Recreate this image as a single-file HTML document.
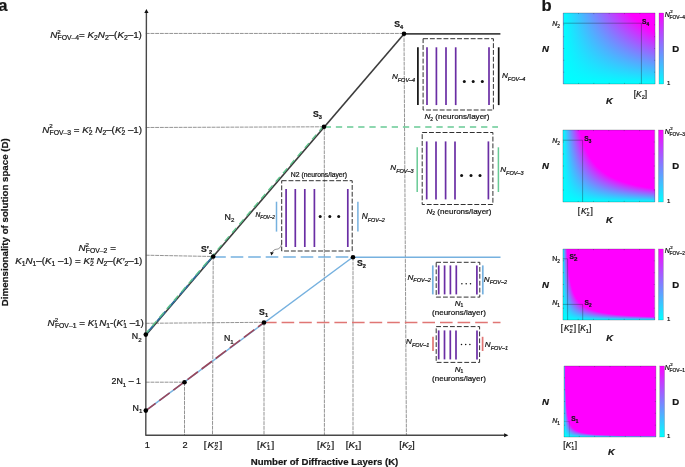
<!DOCTYPE html>
<html><head><meta charset="utf-8"><title>figure</title>
<style>html,body{margin:0;padding:0;background:#fff;}svg{display:block;will-change:transform}text{font-family:"Liberation Sans",sans-serif}</style>
</head><body>
<svg width="685" height="467" viewBox="0 0 685 467">
<defs>
<linearGradient id="cm" x1="0" y1="0" x2="1" y2="0"><stop offset="0" stop-color="#00ffff"/><stop offset="1" stop-color="#ff00ff"/></linearGradient>
<linearGradient id="cb" x1="0" y1="1" x2="0" y2="0"><stop offset="0" stop-color="#00ffff"/><stop offset="1" stop-color="#ff00ff"/></linearGradient>
</defs>
<rect width="685" height="467" fill="#fff"/>

<line x1="145.8" y1="33.45" x2="404" y2="33.45" stroke="#303030" stroke-width="0.52" stroke-dasharray="3.9 0.8"/>
<line x1="145.8" y1="127.5" x2="324" y2="126.8" stroke="#303030" stroke-width="0.52" stroke-dasharray="3.9 0.8"/>
<line x1="145.8" y1="255.2" x2="213" y2="256.5" stroke="#303030" stroke-width="0.52" stroke-dasharray="3.9 0.8"/>
<line x1="145.8" y1="323.3" x2="264" y2="322.3" stroke="#303030" stroke-width="0.52" stroke-dasharray="3.9 0.8"/>
<line x1="145.8" y1="382.2" x2="184.5" y2="382.2" stroke="#303030" stroke-width="0.52" stroke-dasharray="3.9 0.8"/>
<line x1="184.5" y1="382.2" x2="184.5" y2="435.2" stroke="#303030" stroke-width="0.52" stroke-dasharray="3.9 0.8"/>
<line x1="213.2" y1="256.5" x2="212.5" y2="435.2" stroke="#303030" stroke-width="0.52" stroke-dasharray="3.9 0.8"/>
<line x1="264" y1="322.5" x2="264" y2="435.2" stroke="#303030" stroke-width="0.52" stroke-dasharray="3.9 0.8"/>
<line x1="324.3" y1="126.8" x2="324.4" y2="435.2" stroke="#303030" stroke-width="0.52" stroke-dasharray="3.9 0.8"/>
<line x1="353" y1="257" x2="353" y2="435.2" stroke="#303030" stroke-width="0.52" stroke-dasharray="3.9 0.8"/>
<line x1="404" y1="33.5" x2="406.4" y2="435.2" stroke="#303030" stroke-width="0.52" stroke-dasharray="3.9 0.8"/>
<path d="M146.4 12.5 L145.8 435.2 H504.5" fill="none" stroke="#484848" stroke-width="1.4" stroke-linejoin="round"/>
<path d="M146.4 8.9 l-2.1 4.1 h4.2z" fill="#111"/>
<path d="M508.4 435.2 l-4.3 -2.05 v4.1z" fill="#111"/>
<line x1="404" y1="33.8" x2="500.4" y2="33.8" stroke="#444" stroke-width="1.7"/>
<line x1="324.7" y1="127.0" x2="498" y2="127.0" stroke="#68ca95" stroke-width="1.5" stroke-dasharray="6.3 4.87"/>
<line x1="213.2" y1="257.0" x2="353" y2="257.0" stroke="#76b1df" stroke-width="1.5" stroke-dasharray="12.6 4.9"/>
<line x1="353" y1="257.15" x2="500.5" y2="257.15" stroke="#76b1df" stroke-width="1.45"/>
<line x1="264.0" y1="322.5" x2="500.5" y2="322.5" stroke="#e07674" stroke-width="1.5" stroke-dasharray="12.6 5.0"/>
<line x1="145.8" y1="410.6" x2="353" y2="257.0" stroke="#76b1df" stroke-width="1.5"/>
<line x1="145.8" y1="410.6" x2="264" y2="322.5" stroke="#9a475c" stroke-width="1.6" stroke-dasharray="13.0 4.6" stroke-dashoffset="0.8"/>
<line x1="145.99" y1="334.96" x2="404.19" y2="33.66" stroke="#3c3c3c" stroke-width="1.6"/>
<line x1="145.53" y1="334.57" x2="212.93" y2="256.27" stroke="#2d6f9f" stroke-width="1.7" stroke-dasharray="12.8 4.7"/>
<line x1="145.15" y1="334.25" x2="323.35" y2="126.25" stroke="#5cc28a" stroke-width="1.35" stroke-dasharray="6.3 4.87" stroke-dashoffset="0.3"/>
<circle cx="145.8" cy="410.6" r="2.3" fill="#000"/>
<circle cx="184.5" cy="382.2" r="2.3" fill="#000"/>
<circle cx="145.8" cy="334.6" r="2.3" fill="#000"/>
<circle cx="213.2" cy="256.5" r="2.3" fill="#000"/>
<circle cx="264" cy="322.5" r="2.3" fill="#000"/>
<circle cx="324" cy="126.8" r="2.3" fill="#000"/>
<circle cx="353" cy="257.2" r="2.3" fill="#000"/>
<circle cx="404" cy="33.7" r="2.3" fill="#000"/>
<text x="394.2" y="26.7" font-family="'Liberation Sans', sans-serif" font-size="8.7" text-anchor="start" fill="#161616" stroke="#161616" stroke-width="0.22" font-weight="bold"><tspan>S</tspan><tspan font-style="normal" font-size="5.57" dy="2.00">4</tspan></text>
<text x="312.9" y="117.2" font-family="'Liberation Sans', sans-serif" font-size="8.7" text-anchor="start" fill="#161616" stroke="#161616" stroke-width="0.22" font-weight="bold"><tspan>S</tspan><tspan font-style="normal" font-size="5.57" dy="2.00">3</tspan></text>
<text x="201.0" y="252.4" font-family="'Liberation Sans', sans-serif" font-size="8.7" text-anchor="start" fill="#161616" stroke="#161616" stroke-width="0.22" font-weight="bold"><tspan>S</tspan><tspan>′</tspan><tspan font-style="normal" font-size="5.57" dy="2.00">2</tspan></text>
<text x="259.1" y="314.6" font-family="'Liberation Sans', sans-serif" font-size="8.7" text-anchor="start" fill="#161616" stroke="#161616" stroke-width="0.22" font-weight="bold"><tspan>S</tspan><tspan font-style="normal" font-size="5.57" dy="2.00">1</tspan></text>
<text x="357.0" y="266.4" font-family="'Liberation Sans', sans-serif" font-size="8.7" text-anchor="start" fill="#161616" stroke="#161616" stroke-width="0.22" font-weight="bold"><tspan>S</tspan><tspan font-style="normal" font-size="5.57" dy="2.00">2</tspan></text>
<rect x="423.1" y="38.7" width="70.30" height="71.30" fill="none" stroke="#262626" stroke-width="0.95" stroke-dasharray="4.9 1.9"/>
<line x1="427.0" y1="47.3" x2="427.0" y2="105.1" stroke="#6a2da4" stroke-width="1.7"/>
<line x1="436.4" y1="47.3" x2="436.4" y2="105.1" stroke="#6a2da4" stroke-width="1.7"/>
<line x1="446.0" y1="47.3" x2="446.0" y2="105.1" stroke="#6a2da4" stroke-width="1.7"/>
<line x1="455.7" y1="47.3" x2="455.7" y2="105.1" stroke="#6a2da4" stroke-width="1.7"/>
<line x1="489.0" y1="47.3" x2="489.0" y2="105.1" stroke="#6a2da4" stroke-width="1.7"/>
<circle cx="464.3" cy="81.4" r="1.5" fill="#111"/>
<circle cx="473.2" cy="81.4" r="1.5" fill="#111"/>
<circle cx="482.3" cy="81.4" r="1.5" fill="#111"/>
<line x1="417.9" y1="47.3" x2="417.9" y2="105.1" stroke="#111" stroke-width="1.7"/>
<line x1="498.7" y1="47.3" x2="498.7" y2="105.1" stroke="#111" stroke-width="1.7"/>
<rect x="422.2" y="132.5" width="70.70" height="72.00" fill="none" stroke="#262626" stroke-width="0.95" stroke-dasharray="4.9 1.9"/>
<line x1="426.7" y1="141.4" x2="426.7" y2="199.4" stroke="#6a2da4" stroke-width="1.7"/>
<line x1="436" y1="141.4" x2="436" y2="199.4" stroke="#6a2da4" stroke-width="1.7"/>
<line x1="445.6" y1="141.4" x2="445.6" y2="199.4" stroke="#6a2da4" stroke-width="1.7"/>
<line x1="455" y1="141.4" x2="455" y2="199.4" stroke="#6a2da4" stroke-width="1.7"/>
<line x1="488.4" y1="141.4" x2="488.4" y2="199.4" stroke="#6a2da4" stroke-width="1.7"/>
<circle cx="461.6" cy="175.6" r="1.5" fill="#111"/>
<circle cx="471" cy="175.6" r="1.5" fill="#111"/>
<circle cx="480" cy="175.6" r="1.5" fill="#111"/>
<line x1="417.2" y1="147.3" x2="417.2" y2="192" stroke="#68ca95" stroke-width="1.5"/>
<line x1="498.4" y1="147.3" x2="498.4" y2="192" stroke="#68ca95" stroke-width="1.5"/>
<rect x="281.7" y="180.7" width="70.50" height="70.30" fill="none" stroke="#262626" stroke-width="0.95" stroke-dasharray="4.9 1.9"/>
<line x1="286.1" y1="189" x2="286.1" y2="247.0" stroke="#6a2da4" stroke-width="1.7"/>
<line x1="295.3" y1="189" x2="295.3" y2="247.0" stroke="#6a2da4" stroke-width="1.7"/>
<line x1="304.8" y1="189" x2="304.8" y2="247.0" stroke="#6a2da4" stroke-width="1.7"/>
<line x1="314.4" y1="189" x2="314.4" y2="247.0" stroke="#6a2da4" stroke-width="1.7"/>
<line x1="347.8" y1="189" x2="347.8" y2="247.0" stroke="#6a2da4" stroke-width="1.7"/>
<circle cx="320.2" cy="216.6" r="1.5" fill="#111"/>
<circle cx="329.8" cy="216.6" r="1.5" fill="#111"/>
<circle cx="338.7" cy="216.6" r="1.5" fill="#111"/>
<line x1="276.5" y1="201.7" x2="276.5" y2="231.6" stroke="#76b1df" stroke-width="1.5"/>
<line x1="357.9" y1="201.7" x2="357.9" y2="231.6" stroke="#76b1df" stroke-width="1.5"/>
<rect x="436.2" y="262.3" width="43.60" height="34.80" fill="none" stroke="#262626" stroke-width="0.95" stroke-dasharray="4.8 2.1"/>
<line x1="438.7" y1="265.4" x2="438.7" y2="294.4" stroke="#6a2da4" stroke-width="1.7"/>
<line x1="444.6" y1="265.4" x2="444.6" y2="294.4" stroke="#6a2da4" stroke-width="1.7"/>
<line x1="450.4" y1="265.4" x2="450.4" y2="294.4" stroke="#6a2da4" stroke-width="1.7"/>
<line x1="456.3" y1="265.4" x2="456.3" y2="294.4" stroke="#6a2da4" stroke-width="1.7"/>
<line x1="476.9" y1="265.4" x2="476.9" y2="294.4" stroke="#6a2da4" stroke-width="1.7"/>
<circle cx="461.9" cy="283.8" r="0.75" fill="#111"/>
<circle cx="466.2" cy="283.8" r="0.75" fill="#111"/>
<circle cx="470.5" cy="283.8" r="0.75" fill="#111"/>
<line x1="432.8" y1="265.4" x2="432.8" y2="294.4" stroke="#76b1df" stroke-width="1.7"/>
<line x1="482.8" y1="265.4" x2="482.8" y2="294.4" stroke="#76b1df" stroke-width="1.7"/>
<rect x="436.2" y="326.6" width="43.40" height="35.80" fill="none" stroke="#262626" stroke-width="0.95" stroke-dasharray="4.8 2.1"/>
<line x1="438.7" y1="330.4" x2="438.7" y2="359.4" stroke="#6a2da4" stroke-width="1.7"/>
<line x1="444.5" y1="330.4" x2="444.5" y2="359.4" stroke="#6a2da4" stroke-width="1.7"/>
<line x1="450.3" y1="330.4" x2="450.3" y2="359.4" stroke="#6a2da4" stroke-width="1.7"/>
<line x1="456.0" y1="330.4" x2="456.0" y2="359.4" stroke="#6a2da4" stroke-width="1.7"/>
<line x1="477.0" y1="330.4" x2="477.0" y2="359.4" stroke="#6a2da4" stroke-width="1.7"/>
<circle cx="461.5" cy="344.4" r="0.75" fill="#111"/>
<circle cx="465.7" cy="344.4" r="0.75" fill="#111"/>
<circle cx="469.9" cy="344.4" r="0.75" fill="#111"/>
<line x1="433.0" y1="336.8" x2="433.0" y2="351.0" stroke="#e07674" stroke-width="1.7"/>
<line x1="482.6" y1="336.8" x2="482.6" y2="351.0" stroke="#e07674" stroke-width="1.7"/>
<path d="M281.6 243.6 C281.0 247.6 279.0 249.0 276.6 249.2 C274.6 249.4 273.2 250.4 272.3 252.2" fill="none" stroke="#222" stroke-width="0.5"/><path d="M271.3 255.6 L270.2 252.0 L273.8 252.4z" fill="#111"/>
<text x="415.2" y="78.6" font-family="'Liberation Sans', sans-serif" font-size="8.1" text-anchor="end" fill="#161616" stroke="#161616" stroke-width="0.22" font-style="italic"><tspan>N</tspan><tspan font-size="5.5" dy="2.90">FOV–4</tspan></text>
<text x="502.0" y="77.7" font-family="'Liberation Sans', sans-serif" font-size="8.1" text-anchor="start" fill="#161616" stroke="#161616" stroke-width="0.22" font-style="italic"><tspan>N</tspan><tspan font-size="5.5" dy="2.90">FOV–4</tspan></text>
<text x="413.6" y="169.7" font-family="'Liberation Sans', sans-serif" font-size="8.1" text-anchor="end" fill="#161616" stroke="#161616" stroke-width="0.22" font-style="italic"><tspan>N</tspan><tspan font-size="5.5" dy="2.90">FOV–3</tspan></text>
<text x="500.2" y="171.9" font-family="'Liberation Sans', sans-serif" font-size="8.1" text-anchor="start" fill="#161616" stroke="#161616" stroke-width="0.22" font-style="italic"><tspan>N</tspan><tspan font-size="5.5" dy="2.90">FOV–3</tspan></text>
<text x="274.9" y="217.1" font-family="'Liberation Sans', sans-serif" font-size="6.6" text-anchor="end" fill="#161616" stroke="#161616" stroke-width="0.22" font-style="italic"><tspan>N</tspan><tspan font-size="4.6" dy="2.20">FOV–2</tspan></text>
<text x="361.7" y="219.3" font-family="'Liberation Sans', sans-serif" font-size="8.3" text-anchor="start" fill="#161616" stroke="#161616" stroke-width="0.22" font-style="italic"><tspan>N</tspan><tspan font-size="5.4" dy="2.70">FOV–2</tspan></text>
<text x="430.8" y="279.7" font-family="'Liberation Sans', sans-serif" font-size="8.1" text-anchor="end" fill="#161616" stroke="#161616" stroke-width="0.22" font-style="italic"><tspan>N</tspan><tspan font-size="5.5" dy="2.40">FOV–2</tspan></text>
<text x="483.8" y="281.6" font-family="'Liberation Sans', sans-serif" font-size="8.1" text-anchor="start" fill="#161616" stroke="#161616" stroke-width="0.22" font-style="italic"><tspan>N</tspan><tspan font-size="5.5" dy="2.40">FOV–2</tspan></text>
<text x="429.4" y="344.4" font-family="'Liberation Sans', sans-serif" font-size="8.1" text-anchor="end" fill="#161616" stroke="#161616" stroke-width="0.22" font-style="italic"><tspan>N</tspan><tspan font-size="5.5" dy="2.40">FOV–1</tspan></text>
<text x="484.8" y="347.3" font-family="'Liberation Sans', sans-serif" font-size="8.1" text-anchor="start" fill="#161616" stroke="#161616" stroke-width="0.22" font-style="italic"><tspan>N</tspan><tspan font-size="5.5" dy="2.40">FOV–1</tspan></text>
<text x="457" y="118.9" font-family="'Liberation Sans', sans-serif" font-size="8.05" text-anchor="middle" fill="#161616" stroke="#161616" stroke-width="0.22"><tspan font-style="italic">N</tspan><tspan font-style="normal" font-size="4.99" dy="1.60">2</tspan><tspan dy="-1.60"> (neurons/layer)</tspan></text>
<text x="459" y="213.8" font-family="'Liberation Sans', sans-serif" font-size="8.05" text-anchor="middle" fill="#161616" stroke="#161616" stroke-width="0.22"><tspan font-style="italic">N</tspan><tspan font-style="normal" font-size="4.99" dy="1.60">2</tspan><tspan dy="-1.60"> (neurons/layer)</tspan></text>
<text x="319" y="177.2" font-family="'Liberation Sans', sans-serif" font-size="6.8" text-anchor="middle" fill="#161616" stroke="#161616" stroke-width="0.22"><tspan>N2 (neurons/layer)</tspan></text>
<text x="459.0" y="305.7" font-family="'Liberation Sans', sans-serif" font-size="8.0" text-anchor="middle" fill="#161616" stroke="#161616" stroke-width="0.22"><tspan font-style="italic">N</tspan><tspan font-style="normal" font-size="4.96" dy="1.50">1</tspan></text><text x="459.0" y="314.7" font-family="'Liberation Sans', sans-serif" font-size="8.0" text-anchor="middle" fill="#161616" stroke="#161616" stroke-width="0.22"><tspan>(neurons/layer)</tspan></text>
<text x="459.0" y="371.6" font-family="'Liberation Sans', sans-serif" font-size="8.0" text-anchor="middle" fill="#161616" stroke="#161616" stroke-width="0.22"><tspan font-style="italic">N</tspan><tspan font-style="normal" font-size="4.96" dy="1.50">1</tspan></text><text x="459.0" y="380.8" font-family="'Liberation Sans', sans-serif" font-size="8.0" text-anchor="middle" fill="#161616" stroke="#161616" stroke-width="0.22"><tspan>(neurons/layer)</tspan></text>
<text x="224.6" y="219.7" font-family="'Liberation Sans', sans-serif" font-size="8.8" text-anchor="start" fill="#161616" stroke="#161616" stroke-width="0.22"><tspan>N</tspan><tspan font-style="normal" font-size="6.16" dy="2.50">2</tspan></text>
<text x="223.9" y="341.0" font-family="'Liberation Sans', sans-serif" font-size="8.8" text-anchor="start" fill="#161616" stroke="#161616" stroke-width="0.22"><tspan>N</tspan><tspan font-style="normal" font-size="6.16" dy="2.50">1</tspan></text>
<text x="141.6" y="339.4" font-family="'Liberation Sans', sans-serif" font-size="8.8" text-anchor="end" fill="#161616" stroke="#161616" stroke-width="0.22"><tspan>N</tspan><tspan font-style="normal" font-size="6.16" dy="2.50">2</tspan></text>
<text x="142.4" y="410.8" font-family="'Liberation Sans', sans-serif" font-size="8.8" text-anchor="end" fill="#161616" stroke="#161616" stroke-width="0.22"><tspan>N</tspan><tspan font-style="normal" font-size="6.16" dy="2.50">1</tspan></text>
<text x="141.0" y="384.3" font-family="'Liberation Sans', sans-serif" font-size="8.8" text-anchor="end" fill="#161616" stroke="#161616" stroke-width="0.22"><tspan>2N</tspan><tspan font-style="normal" font-size="6.2" dy="2.40">1</tspan><tspan dy="-2.40"> – 1</tspan></text>
<text x="141.9" y="38.1" font-family="'Liberation Sans', sans-serif" font-size="9.8" text-anchor="end" fill="#161616" stroke="#161616" stroke-width="0.22"><tspan font-style="italic">N</tspan><tspan font-style="normal" font-size="6.2" dy="-4.40">2</tspan><tspan font-style="normal" font-size="6.8" dy="6.40" dx="-3.2">FOV–4</tspan><tspan dy="-2.00">= </tspan><tspan font-style="italic">K</tspan><tspan font-style="normal" font-size="6.8" dy="2.00">2</tspan><tspan font-style="italic" dy="-2.00">N</tspan><tspan font-style="normal" font-size="6.8" dy="2.00">2</tspan><tspan dy="-2.00">–(</tspan><tspan font-style="italic">K</tspan><tspan font-style="normal" font-size="6.8" dy="2.00">2</tspan><tspan dy="-2.00">–1)</tspan></text>
<text x="142.1" y="132.7" font-family="'Liberation Sans', sans-serif" font-size="9.8" text-anchor="end" fill="#161616" stroke="#161616" stroke-width="0.22"><tspan font-style="italic">N</tspan><tspan font-style="normal" font-size="6.2" dy="-4.40">2</tspan><tspan font-style="normal" font-size="6.8" dy="6.40" dx="-3.2">FOV–3</tspan><tspan dy="-2.00"> = </tspan><tspan font-style="italic">K</tspan><tspan font-style="italic">′</tspan><tspan font-style="normal" font-size="6.8" dy="2.00" dx="-1.84">2</tspan><tspan dy="-2.00"> </tspan><tspan font-style="italic">N</tspan><tspan font-style="normal" font-size="6.8" dy="2.00">2</tspan><tspan dy="-2.00">–(</tspan><tspan font-style="italic">K</tspan><tspan font-style="italic">′</tspan><tspan font-style="normal" font-size="6.8" dy="2.00" dx="-1.84">2</tspan><tspan dy="-2.00"> –1)</tspan></text>
<text x="97.2" y="251.4" font-family="'Liberation Sans', sans-serif" font-size="9.8" text-anchor="middle" fill="#161616" stroke="#161616" stroke-width="0.22"><tspan font-style="italic">N</tspan><tspan font-style="normal" font-size="6.2" dy="-4.40">2</tspan><tspan font-style="normal" font-size="6.8" dy="6.40" dx="-3.2">FOV–2</tspan><tspan dy="-2.00"> =</tspan></text>
<text x="142.4" y="263.6" font-family="'Liberation Sans', sans-serif" font-size="9.8" text-anchor="end" fill="#161616" stroke="#161616" stroke-width="0.22"><tspan font-style="italic">K</tspan><tspan font-style="normal" font-size="6.8" dy="2.00">1</tspan><tspan font-style="italic" dy="-2.00">N</tspan><tspan font-style="normal" font-size="6.8" dy="2.00">1</tspan><tspan dy="-2.00">–(</tspan><tspan font-style="italic">K</tspan><tspan font-style="normal" font-size="6.8" dy="2.00">1</tspan><tspan dy="-2.00"> –1) = </tspan><tspan font-style="italic">K</tspan><tspan font-style="italic">″</tspan><tspan font-style="normal" font-size="6.8" dy="2.00" dx="-3.47">2</tspan><tspan dy="-2.00"> </tspan><tspan font-style="italic">N</tspan><tspan font-style="normal" font-size="6.8" dy="2.00">2</tspan><tspan dy="-2.00">–(</tspan><tspan font-style="italic">K</tspan><tspan font-style="italic">′</tspan><tspan font-style="normal" font-size="6.8" dy="2.00">2</tspan><tspan dy="-2.00">–1)</tspan></text>
<text x="143.8" y="326.4" font-family="'Liberation Sans', sans-serif" font-size="9.8" text-anchor="end" fill="#161616" stroke="#161616" stroke-width="0.22"><tspan font-style="italic">N</tspan><tspan font-style="normal" font-size="6.2" dy="-4.40">2</tspan><tspan font-style="normal" font-size="6.8" dy="6.40" dx="-3.2">FOV–1</tspan><tspan dy="-2.00"> = </tspan><tspan font-style="italic">K</tspan><tspan font-style="italic">′</tspan><tspan font-style="normal" font-size="6.8" dy="2.00" dx="-1.84">1</tspan><tspan font-style="italic" dy="-2.00" dx="1.2">N</tspan><tspan font-style="normal" font-size="6.8" dy="2.00">1</tspan><tspan dy="-2.00">-(</tspan><tspan font-style="italic">K</tspan><tspan font-style="italic">′</tspan><tspan font-style="normal" font-size="6.8" dy="2.00" dx="-1.84">1</tspan><tspan dy="-2.00"> –1)</tspan></text>
<text x="147.2" y="448.3" font-family="'Liberation Sans', sans-serif" font-size="9.2" text-anchor="middle" fill="#161616" stroke="#161616" stroke-width="0.22"><tspan>1</tspan></text>
<text x="185.1" y="448.3" font-family="'Liberation Sans', sans-serif" font-size="9.2" text-anchor="middle" fill="#161616" stroke="#161616" stroke-width="0.22"><tspan>2</tspan></text>
<text x="213.0" y="448.3" font-family="'Liberation Sans', sans-serif" font-size="9.8" text-anchor="middle" fill="#161616" stroke="#161616" stroke-width="0.22"><tspan>[</tspan><tspan font-style="italic" dx="0.8999999999999999">K</tspan><tspan font-style="italic" dx="0.2">″</tspan><tspan font-style="normal" font-size="6.8" dy="2.10" dx="-3.47">2</tspan><tspan dy="-2.10" dx="1.4">]</tspan></text>
<text x="265.6" y="448.3" font-family="'Liberation Sans', sans-serif" font-size="9.8" text-anchor="middle" fill="#161616" stroke="#161616" stroke-width="0.22"><tspan>[</tspan><tspan font-style="italic" dx="0.3">K</tspan><tspan font-style="italic" dx="0.2">′</tspan><tspan font-style="normal" font-size="6.8" dy="2.10" dx="-1.84">1</tspan><tspan dy="-2.10" dx="0.8">]</tspan></text>
<text x="325.6" y="448.3" font-family="'Liberation Sans', sans-serif" font-size="9.8" text-anchor="middle" fill="#161616" stroke="#161616" stroke-width="0.22"><tspan>[</tspan><tspan font-style="italic" dx="0.3">K</tspan><tspan font-style="italic" dx="0.2">′</tspan><tspan font-style="normal" font-size="6.8" dy="2.10" dx="-1.84">2</tspan><tspan dy="-2.10" dx="0.8">]</tspan></text>
<text x="353.5" y="448.3" font-family="'Liberation Sans', sans-serif" font-size="9.8" text-anchor="middle" fill="#161616" stroke="#161616" stroke-width="0.22"><tspan>[</tspan><tspan font-style="italic" dx="0">K</tspan><tspan font-style="normal" font-size="6.8" dy="2.10" dx="-0.3">1</tspan><tspan dy="-2.10">]</tspan></text>
<text x="407.1" y="448.3" font-family="'Liberation Sans', sans-serif" font-size="9.8" text-anchor="middle" fill="#161616" stroke="#161616" stroke-width="0.22"><tspan>[</tspan><tspan font-style="italic" dx="0">K</tspan><tspan font-style="normal" font-size="6.8" dy="2.10" dx="-0.3">2</tspan><tspan dy="-2.10">]</tspan></text>
<text x="324.5" y="464.6" font-family="'Liberation Sans', sans-serif" font-size="9.65" text-anchor="middle" fill="#161616" stroke="#161616" stroke-width="0.22" font-weight="bold"><tspan>Number of Diffractive Layers (K)</tspan></text>
<text x="0" y="0" font-family="'Liberation Sans', sans-serif" font-size="9.73" text-anchor="middle" fill="#161616" stroke="#161616" stroke-width="0.22" font-weight="bold" transform="translate(8.4 222.2) rotate(-90)"><tspan>Dimensionality of solution space (D)</tspan></text>
<text x="-1.7" y="11.2" font-family="'Liberation Sans', sans-serif" font-size="16.6" text-anchor="start" fill="#161616" stroke="#161616" stroke-width="0.22" font-weight="bold"><tspan>a</tspan></text>
<text x="541.4" y="11.2" font-family="'Liberation Sans', sans-serif" font-size="16.6" text-anchor="start" fill="#161616" stroke="#161616" stroke-width="0.22" font-weight="bold"><tspan>b</tspan></text>
<clipPath id="hc0"><rect x="563.20" y="13.00" width="91.90" height="71.00"/></clipPath>
<g clip-path="url(#hc0)"><rect x="563.20" y="13.00" width="91.90" height="71.00" fill="#ff00ff"/>
<rect x="563.20" y="13" width="67.41" height="1" fill="url(#cm)"/>
<rect x="563.20" y="14" width="68.38" height="1" fill="url(#cm)"/>
<rect x="563.20" y="15" width="69.38" height="1" fill="url(#cm)"/>
<rect x="563.20" y="16" width="70.40" height="1" fill="url(#cm)"/>
<rect x="563.20" y="17" width="71.46" height="1" fill="url(#cm)"/>
<rect x="563.20" y="18" width="72.55" height="1" fill="url(#cm)"/>
<rect x="563.20" y="19" width="73.68" height="1" fill="url(#cm)"/>
<rect x="563.20" y="20" width="74.84" height="1" fill="url(#cm)"/>
<rect x="563.20" y="21" width="76.04" height="1" fill="url(#cm)"/>
<rect x="563.20" y="22" width="77.27" height="1" fill="url(#cm)"/>
<rect x="563.20" y="23" width="78.55" height="1" fill="url(#cm)"/>
<rect x="563.20" y="24" width="79.87" height="1" fill="url(#cm)"/>
<rect x="563.20" y="25" width="81.24" height="1" fill="url(#cm)"/>
<rect x="563.20" y="26" width="82.65" height="1" fill="url(#cm)"/>
<rect x="563.20" y="27" width="84.11" height="1" fill="url(#cm)"/>
<rect x="563.20" y="28" width="85.63" height="1" fill="url(#cm)"/>
<rect x="563.20" y="29" width="87.20" height="1" fill="url(#cm)"/>
<rect x="563.20" y="30" width="88.83" height="1" fill="url(#cm)"/>
<rect x="563.20" y="31" width="90.52" height="1" fill="url(#cm)"/>
<rect x="563.20" y="32" width="92.28" height="1" fill="url(#cm)"/>
<rect x="563.20" y="33" width="94.10" height="1" fill="url(#cm)"/>
<rect x="563.20" y="34" width="96.01" height="1" fill="url(#cm)"/>
<rect x="563.20" y="35" width="97.99" height="1" fill="url(#cm)"/>
<rect x="563.20" y="36" width="100.05" height="1" fill="url(#cm)"/>
<rect x="563.20" y="37" width="102.20" height="1" fill="url(#cm)"/>
<rect x="563.20" y="38" width="104.45" height="1" fill="url(#cm)"/>
<rect x="563.20" y="39" width="106.79" height="1" fill="url(#cm)"/>
<rect x="563.20" y="40" width="109.25" height="1" fill="url(#cm)"/>
<rect x="563.20" y="41" width="111.82" height="1" fill="url(#cm)"/>
<rect x="563.20" y="42" width="114.51" height="1" fill="url(#cm)"/>
<rect x="563.20" y="43" width="117.34" height="1" fill="url(#cm)"/>
<rect x="563.20" y="44" width="120.31" height="1" fill="url(#cm)"/>
<rect x="563.20" y="45" width="123.44" height="1" fill="url(#cm)"/>
<rect x="563.20" y="46" width="126.73" height="1" fill="url(#cm)"/>
<rect x="563.20" y="47" width="130.20" height="1" fill="url(#cm)"/>
<rect x="563.20" y="48" width="133.87" height="1" fill="url(#cm)"/>
<rect x="563.20" y="49" width="137.75" height="1" fill="url(#cm)"/>
<rect x="563.20" y="50" width="141.86" height="1" fill="url(#cm)"/>
<rect x="563.20" y="51" width="146.22" height="1" fill="url(#cm)"/>
<rect x="563.20" y="52" width="150.87" height="1" fill="url(#cm)"/>
<rect x="563.20" y="53" width="155.81" height="1" fill="url(#cm)"/>
<rect x="563.20" y="54" width="161.09" height="1" fill="url(#cm)"/>
<rect x="563.20" y="55" width="166.75" height="1" fill="url(#cm)"/>
<rect x="563.20" y="56" width="172.81" height="1" fill="url(#cm)"/>
<rect x="563.20" y="57" width="179.33" height="1" fill="url(#cm)"/>
<rect x="563.20" y="58" width="186.36" height="1" fill="url(#cm)"/>
<rect x="563.20" y="59" width="193.97" height="1" fill="url(#cm)"/>
<rect x="563.20" y="60" width="202.23" height="1" fill="url(#cm)"/>
<rect x="563.20" y="61" width="211.21" height="1" fill="url(#cm)"/>
<rect x="563.20" y="62" width="221.04" height="1" fill="url(#cm)"/>
<rect x="563.20" y="63" width="231.82" height="1" fill="url(#cm)"/>
<rect x="563.20" y="64" width="243.71" height="1" fill="url(#cm)"/>
<rect x="563.20" y="65" width="256.88" height="1" fill="url(#cm)"/>
<rect x="563.20" y="66" width="271.56" height="1" fill="url(#cm)"/>
<rect x="563.20" y="67" width="288.02" height="1" fill="url(#cm)"/>
<rect x="563.20" y="68" width="306.60" height="1" fill="url(#cm)"/>
<rect x="563.20" y="69" width="327.74" height="1" fill="url(#cm)"/>
<rect x="563.20" y="70" width="352.02" height="1" fill="url(#cm)"/>
<rect x="563.20" y="71" width="380.18" height="1" fill="url(#cm)"/>
<rect x="563.20" y="72" width="413.24" height="1" fill="url(#cm)"/>
<rect x="563.20" y="73" width="452.60" height="1" fill="url(#cm)"/>
<rect x="563.20" y="74" width="500.24" height="1" fill="url(#cm)"/>
<rect x="563.20" y="75" width="559.09" height="1" fill="url(#cm)"/>
<rect x="563.20" y="76" width="633.64" height="1" fill="url(#cm)"/>
<rect x="563.20" y="77" width="731.12" height="1" fill="url(#cm)"/>
<rect x="563.20" y="78" width="864.05" height="1" fill="url(#cm)"/>
<rect x="563.20" y="79" width="1056.07" height="1" fill="url(#cm)"/>
<rect x="563.20" y="80" width="1357.80" height="1" fill="url(#cm)"/>
<rect x="563.20" y="81" width="1900.92" height="1" fill="url(#cm)"/>
<rect x="563.20" y="82" width="3168.20" height="1" fill="url(#cm)"/>
<rect x="563.20" y="83" width="9504.59" height="1" fill="url(#cm)"/>
</g>
<rect x="659.0" y="13" width="4.70" height="71.00" fill="url(#cb)" stroke="#1a2a30" stroke-opacity="0.5" stroke-width="0.35"/>
<text x="672.3" y="51.9" font-family="'Liberation Sans', sans-serif" font-size="9.6" text-anchor="start" fill="#161616" stroke="#161616" stroke-width="0.22" font-weight="bold"><tspan>D</tspan></text>
<text x="667.0" y="85.1" font-family="'Liberation Sans', sans-serif" font-size="6.0" text-anchor="start" fill="#161616" stroke="#161616" stroke-width="0.22"><tspan>1</tspan></text>
<text x="664.7" y="16.8" font-family="'Liberation Sans', sans-serif" font-size="7.0" text-anchor="start" fill="#161616" stroke="#161616" stroke-width="0.22"><tspan font-style="italic">N</tspan><tspan font-style="normal" font-size="4.4" dy="-3.40" dx="0.4">2</tspan><tspan font-style="normal" font-size="4.9" dy="5.10" dx="-3.1">FOV–4</tspan></text>
<text x="542.0" y="51.9" font-family="'Liberation Sans', sans-serif" font-size="9.6" text-anchor="start" fill="#161616" stroke="#161616" stroke-width="0.22" font-weight="bold" font-style="italic"><tspan>N</tspan></text>
<clipPath id="hc1"><rect x="562.90" y="130.00" width="91.90" height="72.00"/></clipPath>
<g clip-path="url(#hc1)"><rect x="562.90" y="130.00" width="91.90" height="72.00" fill="#ff00ff"/>
<rect x="562.90" y="130" width="17.11" height="1" fill="url(#cm)"/>
<rect x="562.90" y="131" width="17.35" height="1" fill="url(#cm)"/>
<rect x="562.90" y="132" width="17.60" height="1" fill="url(#cm)"/>
<rect x="562.90" y="133" width="17.86" height="1" fill="url(#cm)"/>
<rect x="562.90" y="134" width="18.12" height="1" fill="url(#cm)"/>
<rect x="562.90" y="135" width="18.39" height="1" fill="url(#cm)"/>
<rect x="562.90" y="136" width="18.67" height="1" fill="url(#cm)"/>
<rect x="562.90" y="137" width="18.96" height="1" fill="url(#cm)"/>
<rect x="562.90" y="138" width="19.26" height="1" fill="url(#cm)"/>
<rect x="562.90" y="139" width="19.57" height="1" fill="url(#cm)"/>
<rect x="562.90" y="140" width="19.89" height="1" fill="url(#cm)"/>
<rect x="562.90" y="141" width="20.22" height="1" fill="url(#cm)"/>
<rect x="562.90" y="142" width="20.56" height="1" fill="url(#cm)"/>
<rect x="562.90" y="143" width="20.91" height="1" fill="url(#cm)"/>
<rect x="562.90" y="144" width="21.27" height="1" fill="url(#cm)"/>
<rect x="562.90" y="145" width="21.65" height="1" fill="url(#cm)"/>
<rect x="562.90" y="146" width="22.04" height="1" fill="url(#cm)"/>
<rect x="562.90" y="147" width="22.44" height="1" fill="url(#cm)"/>
<rect x="562.90" y="148" width="22.86" height="1" fill="url(#cm)"/>
<rect x="562.90" y="149" width="23.30" height="1" fill="url(#cm)"/>
<rect x="562.90" y="150" width="23.75" height="1" fill="url(#cm)"/>
<rect x="562.90" y="151" width="24.22" height="1" fill="url(#cm)"/>
<rect x="562.90" y="152" width="24.71" height="1" fill="url(#cm)"/>
<rect x="562.90" y="153" width="25.22" height="1" fill="url(#cm)"/>
<rect x="562.90" y="154" width="25.75" height="1" fill="url(#cm)"/>
<rect x="562.90" y="155" width="26.30" height="1" fill="url(#cm)"/>
<rect x="562.90" y="156" width="26.88" height="1" fill="url(#cm)"/>
<rect x="562.90" y="157" width="27.48" height="1" fill="url(#cm)"/>
<rect x="562.90" y="158" width="28.12" height="1" fill="url(#cm)"/>
<rect x="562.90" y="159" width="28.78" height="1" fill="url(#cm)"/>
<rect x="562.90" y="160" width="29.47" height="1" fill="url(#cm)"/>
<rect x="562.90" y="161" width="30.20" height="1" fill="url(#cm)"/>
<rect x="562.90" y="162" width="30.96" height="1" fill="url(#cm)"/>
<rect x="562.90" y="163" width="31.77" height="1" fill="url(#cm)"/>
<rect x="562.90" y="164" width="32.62" height="1" fill="url(#cm)"/>
<rect x="562.90" y="165" width="33.51" height="1" fill="url(#cm)"/>
<rect x="562.90" y="166" width="34.45" height="1" fill="url(#cm)"/>
<rect x="562.90" y="167" width="35.45" height="1" fill="url(#cm)"/>
<rect x="562.90" y="168" width="36.51" height="1" fill="url(#cm)"/>
<rect x="562.90" y="169" width="37.63" height="1" fill="url(#cm)"/>
<rect x="562.90" y="170" width="38.83" height="1" fill="url(#cm)"/>
<rect x="562.90" y="171" width="40.10" height="1" fill="url(#cm)"/>
<rect x="562.90" y="172" width="41.46" height="1" fill="url(#cm)"/>
<rect x="562.90" y="173" width="42.91" height="1" fill="url(#cm)"/>
<rect x="562.90" y="174" width="44.48" height="1" fill="url(#cm)"/>
<rect x="562.90" y="175" width="46.15" height="1" fill="url(#cm)"/>
<rect x="562.90" y="176" width="47.96" height="1" fill="url(#cm)"/>
<rect x="562.90" y="177" width="49.92" height="1" fill="url(#cm)"/>
<rect x="562.90" y="178" width="52.05" height="1" fill="url(#cm)"/>
<rect x="562.90" y="179" width="54.36" height="1" fill="url(#cm)"/>
<rect x="562.90" y="180" width="56.89" height="1" fill="url(#cm)"/>
<rect x="562.90" y="181" width="59.66" height="1" fill="url(#cm)"/>
<rect x="562.90" y="182" width="62.72" height="1" fill="url(#cm)"/>
<rect x="562.90" y="183" width="66.11" height="1" fill="url(#cm)"/>
<rect x="562.90" y="184" width="69.89" height="1" fill="url(#cm)"/>
<rect x="562.90" y="185" width="74.13" height="1" fill="url(#cm)"/>
<rect x="562.90" y="186" width="78.91" height="1" fill="url(#cm)"/>
<rect x="562.90" y="187" width="84.35" height="1" fill="url(#cm)"/>
<rect x="562.90" y="188" width="90.60" height="1" fill="url(#cm)"/>
<rect x="562.90" y="189" width="97.85" height="1" fill="url(#cm)"/>
<rect x="562.90" y="190" width="106.35" height="1" fill="url(#cm)"/>
<rect x="562.90" y="191" width="116.48" height="1" fill="url(#cm)"/>
<rect x="562.90" y="192" width="128.74" height="1" fill="url(#cm)"/>
<rect x="562.90" y="193" width="143.89" height="1" fill="url(#cm)"/>
<rect x="562.90" y="194" width="163.08" height="1" fill="url(#cm)"/>
<rect x="562.90" y="195" width="188.16" height="1" fill="url(#cm)"/>
<rect x="562.90" y="196" width="222.38" height="1" fill="url(#cm)"/>
<rect x="562.90" y="197" width="271.79" height="1" fill="url(#cm)"/>
<rect x="562.90" y="198" width="349.45" height="1" fill="url(#cm)"/>
<rect x="562.90" y="199" width="489.23" height="1" fill="url(#cm)"/>
<rect x="562.90" y="200" width="815.38" height="1" fill="url(#cm)"/>
<rect x="562.90" y="201" width="2446.14" height="1" fill="url(#cm)"/>
</g>
<rect x="658.5" y="130" width="4.80" height="72.00" fill="url(#cb)" stroke="#1a2a30" stroke-opacity="0.5" stroke-width="0.35"/>
<text x="672.3" y="169.4" font-family="'Liberation Sans', sans-serif" font-size="9.6" text-anchor="start" fill="#161616" stroke="#161616" stroke-width="0.22" font-weight="bold"><tspan>D</tspan></text>
<text x="667.0" y="203.1" font-family="'Liberation Sans', sans-serif" font-size="6.0" text-anchor="start" fill="#161616" stroke="#161616" stroke-width="0.22"><tspan>1</tspan></text>
<text x="664.7" y="133.8" font-family="'Liberation Sans', sans-serif" font-size="7.0" text-anchor="start" fill="#161616" stroke="#161616" stroke-width="0.22"><tspan font-style="italic">N</tspan><tspan font-style="normal" font-size="4.4" dy="-3.40" dx="0.4">2</tspan><tspan font-style="normal" font-size="4.9" dy="5.10" dx="-3.1">FOV–3</tspan></text>
<text x="542.0" y="169.4" font-family="'Liberation Sans', sans-serif" font-size="9.6" text-anchor="start" fill="#161616" stroke="#161616" stroke-width="0.22" font-weight="bold" font-style="italic"><tspan>N</tspan></text>
<clipPath id="hc2"><rect x="562.90" y="249.00" width="91.90" height="71.00"/></clipPath>
<g clip-path="url(#hc2)"><rect x="562.90" y="249.00" width="91.90" height="71.00" fill="#ff00ff"/>
<rect x="562.90" y="249" width="4.21" height="1" fill="url(#cm)"/>
<rect x="562.90" y="250" width="4.27" height="1" fill="url(#cm)"/>
<rect x="562.90" y="251" width="4.33" height="1" fill="url(#cm)"/>
<rect x="562.90" y="252" width="4.39" height="1" fill="url(#cm)"/>
<rect x="562.90" y="253" width="4.46" height="1" fill="url(#cm)"/>
<rect x="562.90" y="254" width="4.53" height="1" fill="url(#cm)"/>
<rect x="562.90" y="255" width="4.60" height="1" fill="url(#cm)"/>
<rect x="562.90" y="256" width="4.67" height="1" fill="url(#cm)"/>
<rect x="562.90" y="257" width="4.75" height="1" fill="url(#cm)"/>
<rect x="562.90" y="258" width="4.82" height="1" fill="url(#cm)"/>
<rect x="562.90" y="259" width="4.90" height="1" fill="url(#cm)"/>
<rect x="562.90" y="260" width="4.98" height="1" fill="url(#cm)"/>
<rect x="562.90" y="261" width="5.07" height="1" fill="url(#cm)"/>
<rect x="562.90" y="262" width="5.16" height="1" fill="url(#cm)"/>
<rect x="562.90" y="263" width="5.25" height="1" fill="url(#cm)"/>
<rect x="562.90" y="264" width="5.34" height="1" fill="url(#cm)"/>
<rect x="562.90" y="265" width="5.44" height="1" fill="url(#cm)"/>
<rect x="562.90" y="266" width="5.54" height="1" fill="url(#cm)"/>
<rect x="562.90" y="267" width="5.65" height="1" fill="url(#cm)"/>
<rect x="562.90" y="268" width="5.76" height="1" fill="url(#cm)"/>
<rect x="562.90" y="269" width="5.87" height="1" fill="url(#cm)"/>
<rect x="562.90" y="270" width="5.99" height="1" fill="url(#cm)"/>
<rect x="562.90" y="271" width="6.12" height="1" fill="url(#cm)"/>
<rect x="562.90" y="272" width="6.24" height="1" fill="url(#cm)"/>
<rect x="562.90" y="273" width="6.38" height="1" fill="url(#cm)"/>
<rect x="562.90" y="274" width="6.52" height="1" fill="url(#cm)"/>
<rect x="562.90" y="275" width="6.66" height="1" fill="url(#cm)"/>
<rect x="562.90" y="276" width="6.82" height="1" fill="url(#cm)"/>
<rect x="562.90" y="277" width="6.98" height="1" fill="url(#cm)"/>
<rect x="562.90" y="278" width="7.15" height="1" fill="url(#cm)"/>
<rect x="562.90" y="279" width="7.32" height="1" fill="url(#cm)"/>
<rect x="562.90" y="280" width="7.51" height="1" fill="url(#cm)"/>
<rect x="562.90" y="281" width="7.70" height="1" fill="url(#cm)"/>
<rect x="562.90" y="282" width="7.91" height="1" fill="url(#cm)"/>
<rect x="562.90" y="283" width="8.13" height="1" fill="url(#cm)"/>
<rect x="562.90" y="284" width="8.35" height="1" fill="url(#cm)"/>
<rect x="562.90" y="285" width="8.60" height="1" fill="url(#cm)"/>
<rect x="562.90" y="286" width="8.85" height="1" fill="url(#cm)"/>
<rect x="562.90" y="287" width="9.13" height="1" fill="url(#cm)"/>
<rect x="562.90" y="288" width="9.42" height="1" fill="url(#cm)"/>
<rect x="562.90" y="289" width="9.72" height="1" fill="url(#cm)"/>
<rect x="562.90" y="290" width="10.05" height="1" fill="url(#cm)"/>
<rect x="562.90" y="291" width="10.41" height="1" fill="url(#cm)"/>
<rect x="562.90" y="292" width="10.78" height="1" fill="url(#cm)"/>
<rect x="562.90" y="293" width="11.19" height="1" fill="url(#cm)"/>
<rect x="562.90" y="294" width="11.63" height="1" fill="url(#cm)"/>
<rect x="562.90" y="295" width="12.11" height="1" fill="url(#cm)"/>
<rect x="562.90" y="296" width="12.62" height="1" fill="url(#cm)"/>
<rect x="562.90" y="297" width="13.18" height="1" fill="url(#cm)"/>
<rect x="562.90" y="298" width="13.79" height="1" fill="url(#cm)"/>
<rect x="562.90" y="299" width="14.47" height="1" fill="url(#cm)"/>
<rect x="562.90" y="300" width="15.21" height="1" fill="url(#cm)"/>
<rect x="562.90" y="301" width="16.03" height="1" fill="url(#cm)"/>
<rect x="562.90" y="302" width="16.95" height="1" fill="url(#cm)"/>
<rect x="562.90" y="303" width="17.97" height="1" fill="url(#cm)"/>
<rect x="562.90" y="304" width="19.13" height="1" fill="url(#cm)"/>
<rect x="562.90" y="305" width="20.45" height="1" fill="url(#cm)"/>
<rect x="562.90" y="306" width="21.97" height="1" fill="url(#cm)"/>
<rect x="562.90" y="307" width="23.73" height="1" fill="url(#cm)"/>
<rect x="562.90" y="308" width="25.79" height="1" fill="url(#cm)"/>
<rect x="562.90" y="309" width="28.25" height="1" fill="url(#cm)"/>
<rect x="562.90" y="310" width="31.22" height="1" fill="url(#cm)"/>
<rect x="562.90" y="311" width="34.89" height="1" fill="url(#cm)"/>
<rect x="562.90" y="312" width="39.54" height="1" fill="url(#cm)"/>
<rect x="562.90" y="313" width="45.63" height="1" fill="url(#cm)"/>
<rect x="562.90" y="314" width="53.92" height="1" fill="url(#cm)"/>
<rect x="562.90" y="315" width="65.91" height="1" fill="url(#cm)"/>
<rect x="562.90" y="316" width="84.74" height="1" fill="url(#cm)"/>
<rect x="562.90" y="317" width="118.63" height="1" fill="url(#cm)"/>
<rect x="562.90" y="318" width="197.72" height="1" fill="url(#cm)"/>
<rect x="562.90" y="319" width="593.17" height="1" fill="url(#cm)"/>
</g>
<rect x="658.5" y="249" width="4.80" height="71.00" fill="url(#cb)" stroke="#1a2a30" stroke-opacity="0.5" stroke-width="0.35"/>
<text x="672.3" y="287.9" font-family="'Liberation Sans', sans-serif" font-size="9.6" text-anchor="start" fill="#161616" stroke="#161616" stroke-width="0.22" font-weight="bold"><tspan>D</tspan></text>
<text x="667.0" y="321.1" font-family="'Liberation Sans', sans-serif" font-size="6.0" text-anchor="start" fill="#161616" stroke="#161616" stroke-width="0.22"><tspan>1</tspan></text>
<text x="664.7" y="252.8" font-family="'Liberation Sans', sans-serif" font-size="7.0" text-anchor="start" fill="#161616" stroke="#161616" stroke-width="0.22"><tspan font-style="italic">N</tspan><tspan font-style="normal" font-size="4.4" dy="-3.40" dx="0.4">2</tspan><tspan font-style="normal" font-size="4.9" dy="5.10" dx="-3.1">FOV–2</tspan></text>
<text x="542.0" y="287.9" font-family="'Liberation Sans', sans-serif" font-size="9.6" text-anchor="start" fill="#161616" stroke="#161616" stroke-width="0.22" font-weight="bold" font-style="italic"><tspan>N</tspan></text>
<clipPath id="hc3"><rect x="564.00" y="366.00" width="91.90" height="71.00"/></clipPath>
<g clip-path="url(#hc3)"><rect x="564.00" y="366.00" width="91.90" height="71.00" fill="#ff00ff"/>
<rect x="564.00" y="366" width="1.16" height="1" fill="url(#cm)"/>
<rect x="564.00" y="367" width="1.17" height="1" fill="url(#cm)"/>
<rect x="564.00" y="368" width="1.19" height="1" fill="url(#cm)"/>
<rect x="564.00" y="369" width="1.21" height="1" fill="url(#cm)"/>
<rect x="564.00" y="370" width="1.23" height="1" fill="url(#cm)"/>
<rect x="564.00" y="371" width="1.25" height="1" fill="url(#cm)"/>
<rect x="564.00" y="372" width="1.26" height="1" fill="url(#cm)"/>
<rect x="564.00" y="373" width="1.28" height="1" fill="url(#cm)"/>
<rect x="564.00" y="374" width="1.30" height="1" fill="url(#cm)"/>
<rect x="564.00" y="375" width="1.33" height="1" fill="url(#cm)"/>
<rect x="564.00" y="376" width="1.35" height="1" fill="url(#cm)"/>
<rect x="564.00" y="377" width="1.37" height="1" fill="url(#cm)"/>
<rect x="564.00" y="378" width="1.39" height="1" fill="url(#cm)"/>
<rect x="564.00" y="379" width="1.42" height="1" fill="url(#cm)"/>
<rect x="564.00" y="380" width="1.44" height="1" fill="url(#cm)"/>
<rect x="564.00" y="381" width="1.47" height="1" fill="url(#cm)"/>
<rect x="564.00" y="382" width="1.50" height="1" fill="url(#cm)"/>
<rect x="564.00" y="383" width="1.52" height="1" fill="url(#cm)"/>
<rect x="564.00" y="384" width="1.55" height="1" fill="url(#cm)"/>
<rect x="564.00" y="385" width="1.58" height="1" fill="url(#cm)"/>
<rect x="564.00" y="386" width="1.62" height="1" fill="url(#cm)"/>
<rect x="564.00" y="387" width="1.65" height="1" fill="url(#cm)"/>
<rect x="564.00" y="388" width="1.68" height="1" fill="url(#cm)"/>
<rect x="564.00" y="389" width="1.72" height="1" fill="url(#cm)"/>
<rect x="564.00" y="390" width="1.75" height="1" fill="url(#cm)"/>
<rect x="564.00" y="391" width="1.79" height="1" fill="url(#cm)"/>
<rect x="564.00" y="392" width="1.83" height="1" fill="url(#cm)"/>
<rect x="564.00" y="393" width="1.87" height="1" fill="url(#cm)"/>
<rect x="564.00" y="394" width="1.92" height="1" fill="url(#cm)"/>
<rect x="564.00" y="395" width="1.97" height="1" fill="url(#cm)"/>
<rect x="564.00" y="396" width="2.01" height="1" fill="url(#cm)"/>
<rect x="564.00" y="397" width="2.06" height="1" fill="url(#cm)"/>
<rect x="564.00" y="398" width="2.12" height="1" fill="url(#cm)"/>
<rect x="564.00" y="399" width="2.17" height="1" fill="url(#cm)"/>
<rect x="564.00" y="400" width="2.23" height="1" fill="url(#cm)"/>
<rect x="564.00" y="401" width="2.30" height="1" fill="url(#cm)"/>
<rect x="564.00" y="402" width="2.36" height="1" fill="url(#cm)"/>
<rect x="564.00" y="403" width="2.43" height="1" fill="url(#cm)"/>
<rect x="564.00" y="404" width="2.51" height="1" fill="url(#cm)"/>
<rect x="564.00" y="405" width="2.59" height="1" fill="url(#cm)"/>
<rect x="564.00" y="406" width="2.67" height="1" fill="url(#cm)"/>
<rect x="564.00" y="407" width="2.76" height="1" fill="url(#cm)"/>
<rect x="564.00" y="408" width="2.86" height="1" fill="url(#cm)"/>
<rect x="564.00" y="409" width="2.97" height="1" fill="url(#cm)"/>
<rect x="564.00" y="410" width="3.08" height="1" fill="url(#cm)"/>
<rect x="564.00" y="411" width="3.20" height="1" fill="url(#cm)"/>
<rect x="564.00" y="412" width="3.33" height="1" fill="url(#cm)"/>
<rect x="564.00" y="413" width="3.47" height="1" fill="url(#cm)"/>
<rect x="564.00" y="414" width="3.62" height="1" fill="url(#cm)"/>
<rect x="564.00" y="415" width="3.79" height="1" fill="url(#cm)"/>
<rect x="564.00" y="416" width="3.98" height="1" fill="url(#cm)"/>
<rect x="564.00" y="417" width="4.18" height="1" fill="url(#cm)"/>
<rect x="564.00" y="418" width="4.41" height="1" fill="url(#cm)"/>
<rect x="564.00" y="419" width="4.66" height="1" fill="url(#cm)"/>
<rect x="564.00" y="420" width="4.94" height="1" fill="url(#cm)"/>
<rect x="564.00" y="421" width="5.26" height="1" fill="url(#cm)"/>
<rect x="564.00" y="422" width="5.62" height="1" fill="url(#cm)"/>
<rect x="564.00" y="423" width="6.04" height="1" fill="url(#cm)"/>
<rect x="564.00" y="424" width="6.52" height="1" fill="url(#cm)"/>
<rect x="564.00" y="425" width="7.09" height="1" fill="url(#cm)"/>
<rect x="564.00" y="426" width="7.77" height="1" fill="url(#cm)"/>
<rect x="564.00" y="427" width="8.59" height="1" fill="url(#cm)"/>
<rect x="564.00" y="428" width="9.60" height="1" fill="url(#cm)"/>
<rect x="564.00" y="429" width="10.87" height="1" fill="url(#cm)"/>
<rect x="564.00" y="430" width="12.55" height="1" fill="url(#cm)"/>
<rect x="564.00" y="431" width="14.83" height="1" fill="url(#cm)"/>
<rect x="564.00" y="432" width="18.12" height="1" fill="url(#cm)"/>
<rect x="564.00" y="433" width="23.30" height="1" fill="url(#cm)"/>
<rect x="564.00" y="434" width="32.62" height="1" fill="url(#cm)"/>
<rect x="564.00" y="435" width="54.37" height="1" fill="url(#cm)"/>
<rect x="564.00" y="436" width="163.12" height="1" fill="url(#cm)"/>
</g>
<rect x="659.8" y="366" width="4.70" height="71.00" fill="url(#cb)" stroke="#1a2a30" stroke-opacity="0.5" stroke-width="0.35"/>
<text x="672.3" y="404.9" font-family="'Liberation Sans', sans-serif" font-size="9.6" text-anchor="start" fill="#161616" stroke="#161616" stroke-width="0.22" font-weight="bold"><tspan>D</tspan></text>
<text x="667.0" y="438.1" font-family="'Liberation Sans', sans-serif" font-size="6.0" text-anchor="start" fill="#161616" stroke="#161616" stroke-width="0.22"><tspan>1</tspan></text>
<text x="664.7" y="369.8" font-family="'Liberation Sans', sans-serif" font-size="7.0" text-anchor="start" fill="#161616" stroke="#161616" stroke-width="0.22"><tspan font-style="italic">N</tspan><tspan font-style="normal" font-size="4.4" dy="-3.40" dx="0.4">2</tspan><tspan font-style="normal" font-size="4.9" dy="5.10" dx="-3.1">FOV–1</tspan></text>
<text x="542.0" y="404.9" font-family="'Liberation Sans', sans-serif" font-size="9.6" text-anchor="start" fill="#161616" stroke="#161616" stroke-width="0.22" font-weight="bold" font-style="italic"><tspan>N</tspan></text>
<path d="M563.2 13H655.1V84H563.2ZM578.5 13v1.1M578.5 84v-1.1M563.2 24.8h1.1M655.1 24.8h-1.1M593.8 13v1.1M593.8 84v-1.1M563.2 36.7h1.1M655.1 36.7h-1.1M609.2 13v1.1M609.2 84v-1.1M563.2 48.5h1.1M655.1 48.5h-1.1M624.5 13v1.1M624.5 84v-1.1M563.2 60.3h1.1M655.1 60.3h-1.1M639.8 13v1.1M639.8 84v-1.1M563.2 72.2h1.1M655.1 72.2h-1.1" stroke="#1a2a30" stroke-opacity="0.65" stroke-width="0.4" fill="none"/>
<path d="M562.9 130H654.8V202H562.9ZM578.2 130v1.1M578.2 202v-1.1M562.9 142.0h1.1M654.8 142.0h-1.1M593.5 130v1.1M593.5 202v-1.1M562.9 154.0h1.1M654.8 154.0h-1.1M608.8 130v1.1M608.8 202v-1.1M562.9 166.0h1.1M654.8 166.0h-1.1M624.2 130v1.1M624.2 202v-1.1M562.9 178.0h1.1M654.8 178.0h-1.1M639.5 130v1.1M639.5 202v-1.1M562.9 190.0h1.1M654.8 190.0h-1.1" stroke="#1a2a30" stroke-opacity="0.65" stroke-width="0.4" fill="none"/>
<path d="M562.9 249H654.8V320H562.9ZM578.2 249v1.1M578.2 320v-1.1M562.9 260.8h1.1M654.8 260.8h-1.1M593.5 249v1.1M593.5 320v-1.1M562.9 272.7h1.1M654.8 272.7h-1.1M608.8 249v1.1M608.8 320v-1.1M562.9 284.5h1.1M654.8 284.5h-1.1M624.2 249v1.1M624.2 320v-1.1M562.9 296.3h1.1M654.8 296.3h-1.1M639.5 249v1.1M639.5 320v-1.1M562.9 308.2h1.1M654.8 308.2h-1.1" stroke="#1a2a30" stroke-opacity="0.65" stroke-width="0.4" fill="none"/>
<path d="M564.0 366H655.9V437H564.0ZM579.3 366v1.1M579.3 437v-1.1M564.0 377.8h1.1M655.9 377.8h-1.1M594.6 366v1.1M594.6 437v-1.1M564.0 389.7h1.1M655.9 389.7h-1.1M610.0 366v1.1M610.0 437v-1.1M564.0 401.5h1.1M655.9 401.5h-1.1M625.3 366v1.1M625.3 437v-1.1M564.0 413.3h1.1M655.9 413.3h-1.1M640.6 366v1.1M640.6 437v-1.1M564.0 425.2h1.1M655.9 425.2h-1.1" stroke="#1a2a30" stroke-opacity="0.65" stroke-width="0.4" fill="none"/>
<path d="M563.2 23.2 H641.4 V84" stroke="#15252c" stroke-opacity="0.7" stroke-width="0.5" fill="none"/>
<text x="560.0" y="25.8" font-family="'Liberation Sans', sans-serif" font-size="7.0" text-anchor="end" fill="#161616" stroke="#161616" stroke-width="0.22"><tspan font-style="italic">N</tspan><tspan font-style="normal" font-size="4.8" dy="2.00">2</tspan></text>
<text x="642.1" y="23.8" font-family="'Liberation Sans', sans-serif" font-size="6.7" text-anchor="start" fill="#161616" stroke="#161616" stroke-width="0.22" font-weight="bold"><tspan>S</tspan><tspan font-style="normal" font-size="4.6" dy="2.20">4</tspan></text>
<text x="640.4" y="97.3" font-family="'Liberation Sans', sans-serif" font-size="8.4" text-anchor="middle" fill="#161616" stroke="#161616" stroke-width="0.22"><tspan>[</tspan><tspan font-style="italic" dx="0.0">K</tspan><tspan font-style="normal" font-size="5.6" dy="1.90">2</tspan><tspan dy="-1.90">]</tspan></text>
<text x="609.3" y="103.9" font-family="'Liberation Sans', sans-serif" font-size="9.3" text-anchor="middle" fill="#161616" stroke="#161616" stroke-width="0.22" font-weight="bold" font-style="italic"><tspan>K</tspan></text>
<path d="M562.9 140.2 H582.6 V202" stroke="#15252c" stroke-opacity="0.7" stroke-width="0.5" fill="none"/>
<text x="560.0" y="143.1" font-family="'Liberation Sans', sans-serif" font-size="7.0" text-anchor="end" fill="#161616" stroke="#161616" stroke-width="0.22"><tspan font-style="italic">N</tspan><tspan font-style="normal" font-size="4.8" dy="2.00">2</tspan></text>
<text x="584.3" y="140.8" font-family="'Liberation Sans', sans-serif" font-size="6.7" text-anchor="start" fill="#161616" stroke="#161616" stroke-width="0.22" font-weight="bold"><tspan>S</tspan><tspan font-style="normal" font-size="4.6" dy="2.20">3</tspan></text>
<text x="585.4" y="214.0" font-family="'Liberation Sans', sans-serif" font-size="8.4" text-anchor="middle" fill="#161616" stroke="#161616" stroke-width="0.22"><tspan>[</tspan><tspan font-style="italic" dx="0.7">K</tspan><tspan font-style="italic">′</tspan><tspan font-style="normal" font-size="5.6" dy="1.90" dx="-1.58">2</tspan><tspan dy="-1.90" dx="1.0">]</tspan></text>
<text x="609.3" y="222.6" font-family="'Liberation Sans', sans-serif" font-size="9.3" text-anchor="middle" fill="#161616" stroke="#161616" stroke-width="0.22" font-weight="bold" font-style="italic"><tspan>K</tspan></text>
<path d="M562.9 258.8 H567.6 V320" stroke="#15252c" stroke-opacity="0.7" stroke-width="0.5" fill="none"/>
<path d="M562.9 304.4 H582.7 V320" stroke="#15252c" stroke-opacity="0.7" stroke-width="0.5" fill="none"/>
<text x="560.0" y="261.1" font-family="'Liberation Sans', sans-serif" font-size="7.0" text-anchor="end" fill="#161616" stroke="#161616" stroke-width="0.22"><tspan font-style="normal">N</tspan><tspan font-style="normal" font-size="4.8" dy="2.00">2</tspan></text>
<text x="560.0" y="305.3" font-family="'Liberation Sans', sans-serif" font-size="7.0" text-anchor="end" fill="#161616" stroke="#161616" stroke-width="0.22"><tspan font-style="italic">N</tspan><tspan font-style="normal" font-size="4.8" dy="2.00">1</tspan></text>
<text x="569.6" y="258.8" font-family="'Liberation Sans', sans-serif" font-size="6.7" text-anchor="start" fill="#161616" stroke="#161616" stroke-width="0.22" font-weight="bold"><tspan>S</tspan><tspan>′</tspan><tspan font-style="normal" font-size="6.2" font-weight="bold" dy="2.60" dx="-1.8">2</tspan></text>
<text x="584.6" y="304.7" font-family="'Liberation Sans', sans-serif" font-size="6.7" text-anchor="start" fill="#161616" stroke="#161616" stroke-width="0.22" font-weight="bold"><tspan>S</tspan><tspan font-style="normal" font-size="4.6" dy="2.20">2</tspan></text>
<text x="568.5" y="331.4" font-family="'Liberation Sans', sans-serif" font-size="8.4" text-anchor="middle" fill="#161616" stroke="#161616" stroke-width="0.22"><tspan>[</tspan><tspan font-style="italic" dx="0.8">K</tspan><tspan font-style="italic">″</tspan><tspan font-style="normal" font-size="5.6" dy="1.90" dx="-2.97">2</tspan><tspan dy="-1.90" dx="1.1">]</tspan></text>
<text x="584.6" y="331.4" font-family="'Liberation Sans', sans-serif" font-size="8.4" text-anchor="middle" fill="#161616" stroke="#161616" stroke-width="0.22"><tspan>[</tspan><tspan font-style="italic" dx="0.0">K</tspan><tspan font-style="normal" font-size="5.6" dy="1.90">1</tspan><tspan dy="-1.90">]</tspan></text>
<text x="609.5" y="340.9" font-family="'Liberation Sans', sans-serif" font-size="9.3" text-anchor="middle" fill="#161616" stroke="#161616" stroke-width="0.22" font-weight="bold" font-style="italic"><tspan>K</tspan></text>
<path d="M564.0 421.5 H569.4 V437" stroke="#15252c" stroke-opacity="0.35" stroke-width="0.5" fill="none"/>
<text x="560.0" y="422.7" font-family="'Liberation Sans', sans-serif" font-size="7.0" text-anchor="end" fill="#161616" stroke="#161616" stroke-width="0.22"><tspan font-style="italic">N</tspan><tspan font-style="normal" font-size="4.8" dy="2.00">1</tspan></text>
<text x="571.3" y="420.9" font-family="'Liberation Sans', sans-serif" font-size="6.7" text-anchor="start" fill="#161616" stroke="#161616" stroke-width="0.22" font-weight="bold"><tspan>S</tspan><tspan font-style="normal" font-size="4.6" dy="2.20">1</tspan></text>
<text x="570.2" y="448.4" font-family="'Liberation Sans', sans-serif" font-size="8.4" text-anchor="middle" fill="#161616" stroke="#161616" stroke-width="0.22"><tspan>[</tspan><tspan font-style="italic" dx="0.0">K</tspan><tspan font-style="italic">′</tspan><tspan font-style="normal" font-size="5.6" dy="1.90" dx="-1.58">1</tspan><tspan dy="-1.90" dx="0.3">]</tspan></text>
<text x="611.3" y="454.7" font-family="'Liberation Sans', sans-serif" font-size="9.3" text-anchor="middle" fill="#161616" stroke="#161616" stroke-width="0.22" font-weight="bold" font-style="italic"><tspan>K</tspan></text>
</svg>
</body></html>
